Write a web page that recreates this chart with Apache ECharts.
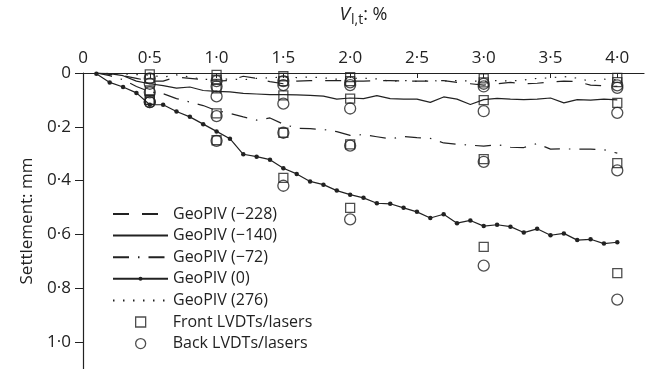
<!DOCTYPE html>
<html>
<head>
<meta charset="utf-8">
<script src="https://cdn.jsdelivr.net/npm/echarts@6/dist/echarts.min.js"></script>
<style>
  html, body { margin: 0; padding: 0; background: #fff; }
  #chart { width: 653px; height: 369px; }
</style>
</head>
<body>
<div id="chart"></div>
<script>
// Volume loss V_l,t (%) at which the GeoPIV profiles were sampled
const volumeLoss = [0.1, 0.2, 0.3, 0.4, 0.5, 0.6, 0.7, 0.8, 0.9, 1.0,
  1.1, 1.2, 1.3, 1.4, 1.5, 1.6, 1.7, 1.8, 1.9, 2.0,
  2.1, 2.2, 2.3, 2.4, 2.5, 2.6, 2.7, 2.8, 2.9, 3.0,
  3.1, 3.2, 3.3, 3.4, 3.5, 3.6, 3.7, 3.8, 3.9, 4.0];

// GeoPIV settlements (mm) at each offset
const geoM228 = [0.000, 0.005, 0.010, 0.020, 0.030, 0.030, 0.015, 0.020, 0.025, 0.030,
  0.028, 0.012, 0.020, 0.032, 0.040, 0.030, 0.028, 0.028, 0.028, 0.030,
  0.030, 0.028, 0.028, 0.030, 0.030, 0.030, 0.028, 0.035, 0.040, 0.045,
  0.040, 0.035, 0.040, 0.038, 0.034, 0.030, 0.032, 0.045, 0.047, 0.050];
const geoM140 = [0.000, 0.002, 0.010, 0.030, 0.040, 0.047, 0.056, 0.052, 0.065, 0.068,
  0.070, 0.076, 0.078, 0.080, 0.080, 0.081, 0.083, 0.086, 0.097, 0.093,
  0.095, 0.084, 0.095, 0.097, 0.097, 0.109, 0.089, 0.097, 0.117, 0.099,
  0.094, 0.097, 0.099, 0.097, 0.093, 0.111, 0.099, 0.101, 0.097, 0.100];
const geoM72 = [0.000, 0.010, 0.025, 0.050, 0.070, 0.077, 0.095, 0.108, 0.121, 0.140,
  0.150, 0.163, 0.175, 0.167, 0.190, 0.205, 0.207, 0.210, 0.218, 0.232,
  0.229, 0.237, 0.245, 0.236, 0.240, 0.243, 0.260, 0.265, 0.268, 0.272,
  0.266, 0.276, 0.277, 0.262, 0.283, 0.282, 0.283, 0.283, 0.285, 0.298];
const geo0 = [0.003, 0.035, 0.052, 0.074, 0.118, 0.118, 0.143, 0.163, 0.190, 0.217,
  0.244, 0.302, 0.311, 0.322, 0.354, 0.375, 0.403, 0.415, 0.437, 0.452,
  0.464, 0.484, 0.486, 0.501, 0.516, 0.539, 0.525, 0.558, 0.548, 0.569,
  0.564, 0.571, 0.593, 0.579, 0.603, 0.596, 0.621, 0.618, 0.634, 0.629];
const geo276 = [0.000, 0.002, 0.004, 0.006, 0.008, 0.015, 0.007, 0.015, 0.023, 0.025,
  0.022, 0.025, 0.020, 0.018, 0.015, 0.017, 0.015, 0.018, 0.023, 0.020,
  0.019, 0.022, 0.031, 0.028, 0.031, 0.028, 0.030, 0.028, 0.030, 0.031,
  0.028, 0.030, 0.026, 0.020, 0.018, 0.013, 0.019, 0.031, 0.023, 0.025];

// LVDT / laser readings (mm) at the sampled volume losses
const lvdtStages = [0.5, 1.0, 1.5, 2.0, 3.0, 4.0];
const frontM228 = [0.020, 0.025, 0.030, 0.030, 0.035, 0.034];
const frontM140 = [0.065, 0.057, 0.083, 0.095, 0.101, 0.111];
const frontM72  = [0.100, 0.150, 0.222, 0.265, 0.320, 0.335];
const front0    = [0.100, 0.250, 0.390, 0.501, 0.646, 0.744];
const front276  = [0.005, 0.007, 0.012, 0.015, 0.020, 0.018];
const backM228  = [0.040, 0.050, 0.045, 0.045, 0.050, 0.055];
const backM140  = [0.072, 0.087, 0.114, 0.132, 0.142, 0.148];
const backM72   = [0.108, 0.160, 0.222, 0.270, 0.330, 0.362];
const back0     = [0.108, 0.252, 0.419, 0.544, 0.716, 0.842];
const back276   = [0.020, 0.030, 0.030, 0.035, 0.040, 0.046];

// Axis ticks
const xTicks = [0, 0.5, 1.0, 1.5, 2.0, 2.5, 3.0, 3.5, 4.0];
const yTicks = [0, 0.2, 0.4, 0.6, 0.8, 1.0];

const lineNames = ['GeoPIV (\u2212228)', 'GeoPIV (\u2212140)', 'GeoPIV (\u221272)', 'GeoPIV (0)', 'GeoPIV (276)'];
const pointNames = ['Front LVDTs/lasers', 'Back LVDTs/lasers'];

const INK = '#222';
const FONT = 'Open Sans';
const CLEAR = 'rgba(0,0,0,0)';

const pairs = (xs, ys) => xs.map((x, i) => [x, ys[i]]);
const stagePoints = (...cols) => cols.flatMap(col => pairs(lvdtStages, col));
const fmt = v => (v === 0 ? '0' : v.toFixed(1).replace('.', '\u00b7'));

function lineSeries(name, values, dash, extra) {
  return Object.assign({
    name: name,
    type: 'line',
    data: pairs(volumeLoss, values),
    symbol: 'none',
    lineStyle: { color: INK, width: 1.2, type: dash, cap: 'butt' },
    itemStyle: { color: INK },
    z: 3
  }, extra || {});
}

// legend entries: only GeoPIV (0) keeps its dot marker in the sample
const lineLegend = lineNames.map(name => (name === 'GeoPIV (0)'
  ? { name: name }
  : { name: name, itemStyle: { color: CLEAR, borderColor: CLEAR, borderWidth: 0 } }));

const chart = echarts.init(document.getElementById('chart'), null, { renderer: 'canvas' });

chart.setOption({
  animation: false,
  backgroundColor: '#fff',
  textStyle: { fontFamily: FONT, color: INK },
  grid: { left: 83, top: 72, width: 561, height: 298 },
  xAxis: {
    type: 'value',
    position: 'top',
    min: 0, max: 4.2,
    name: '{i|V}{s|l,t}{n|: %}',
    nameLocation: 'middle',
    nameGap: 46,
    nameTextStyle: {
      rich: {
        i: { fontFamily: FONT, fontStyle: 'italic', fontSize: 19, color: INK },
        s: { fontFamily: FONT, fontSize: 14, color: INK, padding: [11, 0, 0, 1] },
        n: { fontFamily: FONT, fontSize: 18, color: INK }
      }
    },
    axisLine: { onZero: false, lineStyle: { color: INK, width: 1.2 } },
    axisTick: { inside: true, length: 5, customValues: xTicks, lineStyle: { color: INK, width: 1 } },
    axisLabel: { customValues: xTicks, formatter: fmt, fontSize: 17, color: INK, fontFamily: FONT, margin: 6 },
    splitLine: { show: false }
  },
  yAxis: {
    type: 'value',
    inverse: true,
    min: 0, max: 1.1,
    name: 'Settlement: mm',
    nameLocation: 'middle',
    nameGap: 47,
    nameTextStyle: { fontSize: 17, color: INK, fontFamily: FONT },
    axisLine: { onZero: false, lineStyle: { color: INK, width: 1.2 } },
    axisTick: { inside: false, length: 8, customValues: yTicks, lineStyle: { color: INK, width: 1 } },
    axisLabel: { customValues: yTicks, formatter: fmt, fontSize: 17, color: INK, fontFamily: FONT, margin: 12 },
    splitLine: { show: false }
  },
  legend: [
    {
      orient: 'vertical',
      left: 107,
      top: 201,
      itemWidth: 55,
      itemHeight: 5,
      itemGap: 5.6,
      textStyle: { fontSize: 16, color: INK, fontFamily: FONT },
      itemStyle: { borderWidth: 0 },
      data: lineLegend
    },
    {
      orient: 'vertical',
      left: 130,
      top: 309,
      itemWidth: 10,
      itemHeight: 10,
      itemGap: 5.6,
      textStyle: { fontSize: 16, color: INK, fontFamily: FONT, padding: [0, 0, 0, 22] },
      itemStyle: { borderWidth: 1.3 },
      data: [
        { name: pointNames[0], icon: 'rect' },
        { name: pointNames[1], icon: 'circle' }
      ]
    }
  ],
  series: [
    lineSeries(lineNames[0], geoM228, [16, 13]),
    lineSeries(lineNames[1], geoM140, 'solid'),
    lineSeries(lineNames[2], geoM72, [16, 9, 1.5, 9]),
    lineSeries(lineNames[3], geo0, 'solid', {
      symbol: 'circle', symbolSize: 4.5, showSymbol: true,
      itemStyle: { color: INK, borderWidth: 0 }
    }),
    lineSeries(lineNames[4], geo276, [1.5, 8.5]),
    {
      name: pointNames[0],
      type: 'scatter',
      data: stagePoints(frontM228, frontM140, frontM72, front0, front276),
      symbol: 'rect',
      symbolSize: 9,
      itemStyle: { color: CLEAR, borderColor: INK, borderWidth: 1.3 },
      z: 5
    },
    {
      name: pointNames[1],
      type: 'scatter',
      data: stagePoints(backM228, backM140, backM72, back0, back276),
      symbol: 'circle',
      symbolSize: 11,
      itemStyle: { color: CLEAR, borderColor: INK, borderWidth: 1.3 },
      z: 5
    }
  ]
});
</script>
</body>
</html>
